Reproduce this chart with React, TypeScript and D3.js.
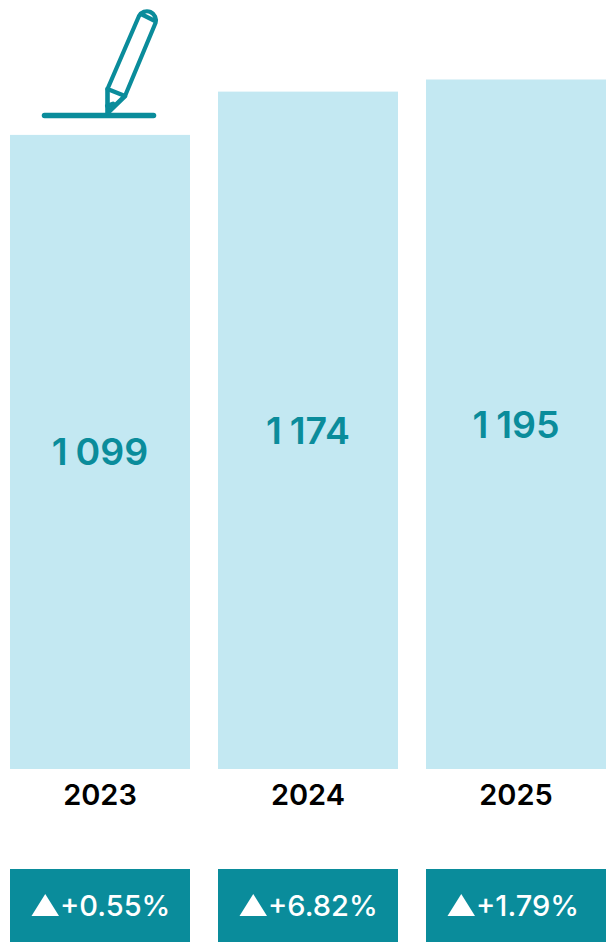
import React from "react";
import * as d3 from "d3";

const years = ["2023", "2024", "2025"];
const totals = [1099, 1174, 1195];
const totalLabels = ["1 099", "1 174", "1 195"];
const changes = ["+0.55%", "+6.82%", "+1.79%"];

const TEAL = "#0a8c9b";
const LIGHT = "#c3e8f2";
const FONT = "Inter, sans-serif";

export default function App() {
  const x = d3.scaleBand<string>().domain(years).range([10, 606]).paddingInner(28 / 208).paddingOuter(0);
  const y = d3.scaleLinear().domain([0, 1195]).range([769, 79.5]);
  const triangle = d3.line<[number, number]>();
  return (
    <svg width={606} height={946} style={{ position: "absolute", left: 0, top: 0 }} fontFamily={FONT}>
      <g fill="none" stroke={TEAL} strokeLinecap="round" strokeLinejoin="round">
        <line x1={44.5} x2={153.5} y1={115.5} y2={115.5} strokeWidth={5.5} />
        <path
          d="M107.5 89 L139 16 A9 9 0 0 1 155.5 23 L125 96 Z M141 14 L155 21"
          strokeWidth={4.2}
        />
        <path d="M107.5 89 L107.5 113 L125 96" strokeWidth={4.6} />
        <path d="M107.5 106 L113 104" strokeWidth={5} />
      </g>
      {years.map((yr, i) => {
        const bx = x(yr)!;
        const w = x.bandwidth();
        const cx = bx + w / 2;
        const top = y(totals[i]);
        return (
          <g key={yr}>
            <rect x={bx} y={top} width={w} height={y(0) - top} fill={LIGHT} />
            <text x={cx} y={(top + 769) / 2 + 13.5} textAnchor="middle" fontSize={37.5} fontWeight={600} fill={TEAL} wordSpacing={-1.5}>
              {totalLabels[i]}
            </text>
            <text x={cx} y={805} textAnchor="middle" fontSize={29} fontWeight={600} fill="#000">
              {yr}
            </text>
            <rect x={bx} y={869} width={w} height={73} fill={TEAL} />
            <path
              d={triangle([[bx + 21.5, 916], [bx + 49, 916], [bx + 35.25, 894]])! + "Z"}
              fill="#fff"
            />
            <text x={bx + 50} y={916} fontSize={29} fontWeight={500} fill="#fff">
              {changes[i]}
            </text>
          </g>
        );
      })}
    </svg>
  );
}
